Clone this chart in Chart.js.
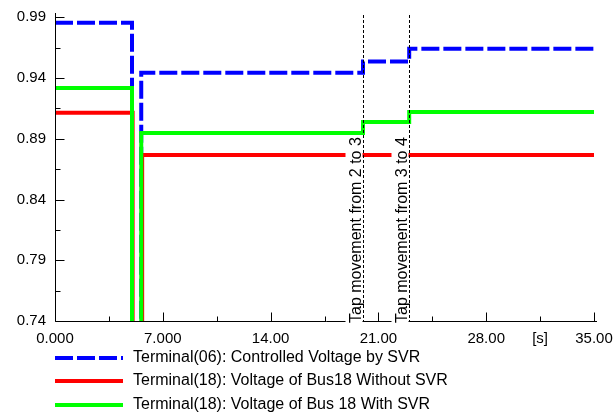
<!DOCTYPE html>
<html>
<head>
<meta charset="utf-8">
<script src="https://cdn.jsdelivr.net/npm/chart.js@4/dist/chart.umd.min.js"></script>
<style>
  html, body { margin: 0; padding: 0; background: #fff; }
  canvas { display: block; }
</style>
</head>
<body>
<canvas id="chart" width="613" height="419"></canvas>
<script>
// time [s] where each value starts (stepped lines)
const timeSvr = [0, 5.0, 5.6, 20, 23, 35];
const voltSvr = [0.9855, 0.70, 0.9443, 0.9536, 0.964, 0.964];

const timeNoSvr = [0, 5.04, 5.66, 35];
const voltNoSvr = [0.9115, 0.70, 0.8767, 0.8767];

const timeWithSvr = [0, 5.0, 5.6, 20, 23, 35];
const voltWithSvr = [0.9317, 0.70, 0.8948, 0.9037, 0.912, 0.912];

const seriesLabels = [
  'Terminal(06): Controlled Voltage by SVR',
  'Terminal(18): Voltage of Bus18 Without SVR',
  'Terminal(18): Voltage of Bus 18 With SVR'
];

const xTicks = [0, 7, 14, 21, 28, 35];
const xTickLabels = ['0.000', '7.000', '14.00', '21.00', '28.00', '35.00'];
const xUnitAt = 31.5;
const xUnitLabel = '[s]';
const yTicks = [0.74, 0.79, 0.84, 0.89, 0.94, 0.99];
const yTickLabels = ['0.74', '0.79', '0.84', '0.89', '0.94', '0.99'];

const tapTimes = [20, 23];
const tapLabels = ['Tap movement from 2 to 3', 'Tap movement from 3 to 4'];

const FONT = '"Liberation Sans", Arial, sans-serif';

function toPoints(xs, ys) {
  return xs.map((t, i) => ({ x: t, y: ys[i] }));
}

const overlay = {
  id: 'overlay',
  afterDatasetsDraw(chart) {
    const ctx = chart.ctx;
    const a = chart.chartArea;
    const x = chart.scales.x;
    const y = chart.scales.y;
    ctx.save();
    ctx.strokeStyle = '#000';
    ctx.fillStyle = '#000';
    ctx.lineWidth = 1;
    ctx.setLineDash([]);

    // axes
    const bottom = Math.round(a.bottom) + 0.5;
    const left = Math.round(a.left) + 0.5;
    ctx.beginPath();
    ctx.moveTo(left, a.top);
    ctx.lineTo(left, bottom);
    ctx.lineTo(a.right + 3, bottom);
    ctx.stroke();

    // x ticks (inside)
    ctx.beginPath();
    xTicks.forEach((v, i) => {
      const px = Math.round(x.getPixelForValue(v)) + 0.5;
      ctx.moveTo(px, bottom);
      ctx.lineTo(px, bottom - 9);
      if (i < xTicks.length - 1) {
        const pm = Math.round(x.getPixelForValue(v + 3.5)) + 0.5;
        ctx.moveTo(pm, bottom);
        ctx.lineTo(pm, bottom - 5);
      }
    });
    // y ticks (inside)
    yTicks.forEach((v, i) => {
      const py = Math.round(y.getPixelForValue(v)) + 0.5;
      ctx.moveTo(left, py);
      ctx.lineTo(left + 9, py);
      if (i < yTicks.length - 1) {
        const pm = Math.round(y.getPixelForValue(v + 0.025)) + 0.5;
        ctx.moveTo(left, pm);
        ctx.lineTo(left + 5, pm);
      }
    });
    ctx.stroke();

    // tick labels
    ctx.font = '15px ' + FONT;
    ctx.textBaseline = 'middle';
    ctx.textAlign = 'center';
    xTicks.forEach((v, i) => {
      ctx.fillText(xTickLabels[i], x.getPixelForValue(v), a.bottom + 18);
    });
    ctx.fillText(xUnitLabel, x.getPixelForValue(xUnitAt), a.bottom + 18);
    ctx.textAlign = 'right';
    yTicks.forEach((v, i) => {
      ctx.fillText(yTickLabels[i], a.left - 9, y.getPixelForValue(v));
    });

    // tap movement markers
    ctx.font = '16px ' + FONT;
    tapTimes.forEach((t, i) => {
      const px = Math.round(x.getPixelForValue(t)) + 0.5;
      ctx.setLineDash([3, 2]);
      ctx.beginPath();
      ctx.moveTo(px, a.top + 2);
      ctx.lineTo(px, bottom);
      ctx.stroke();
      ctx.setLineDash([]);
      const w = ctx.measureText(tapLabels[i]).width;
      ctx.save();
      ctx.translate(px - 3, a.bottom + 2);
      ctx.rotate(-Math.PI / 2);
      ctx.fillStyle = '#fff';
      ctx.fillRect(-1, -15, w + 3, 17);
      ctx.fillStyle = '#000';
      ctx.textAlign = 'left';
      ctx.textBaseline = 'alphabetic';
      ctx.fillText(tapLabels[i], 0, 0);
      ctx.restore();
    });

    // legend
    const rows = [358, 381, 405];
    chart.data.datasets.forEach((ds, i) => {
      ctx.strokeStyle = ds.borderColor;
      ctx.lineWidth = ds.borderWidth;
      ctx.setLineDash(ds.borderDash || []);
      ctx.beginPath();
      ctx.moveTo(55, rows[i]);
      ctx.lineTo(123, rows[i]);
      ctx.stroke();
      ctx.setLineDash([]);
      ctx.fillStyle = '#000';
      ctx.textAlign = 'left';
      ctx.textBaseline = 'middle';
      ctx.fillText(ds.label, 133, rows[i]);
    });
    ctx.restore();
  }
};

new Chart(document.getElementById('chart'), {
  type: 'line',
  data: {
    datasets: [
      {
        label: seriesLabels[0],
        data: toPoints(timeSvr, voltSvr),
        borderColor: '#0000ff',
        borderWidth: 4,
        borderDash: [18, 4],
        order: 2
      },
      {
        label: seriesLabels[1],
        data: toPoints(timeNoSvr, voltNoSvr),
        borderColor: '#ff0000',
        borderWidth: 4,
        order: 1
      },
      {
        label: seriesLabels[2],
        data: toPoints(timeWithSvr, voltWithSvr),
        borderColor: '#00ff00',
        borderWidth: 4,
        order: 0
      }
    ]
  },
  options: {
    responsive: false,
    animation: false,
    layout: { padding: { left: 55, right: 19, top: 13, bottom: 98 } },
    elements: {
      line: { stepped: 'before', tension: 0, fill: false, borderJoinStyle: 'miter', borderCapStyle: 'butt' },
      point: { radius: 0, hoverRadius: 0 }
    },
    scales: {
      x: { type: 'linear', min: 0, max: 35, display: false },
      y: { type: 'linear', min: 0.74, max: 0.9935, display: false }
    },
    plugins: {
      legend: { display: false },
      tooltip: { enabled: false }
    }
  },
  plugins: [overlay]
});
</script>
</body>
</html>
